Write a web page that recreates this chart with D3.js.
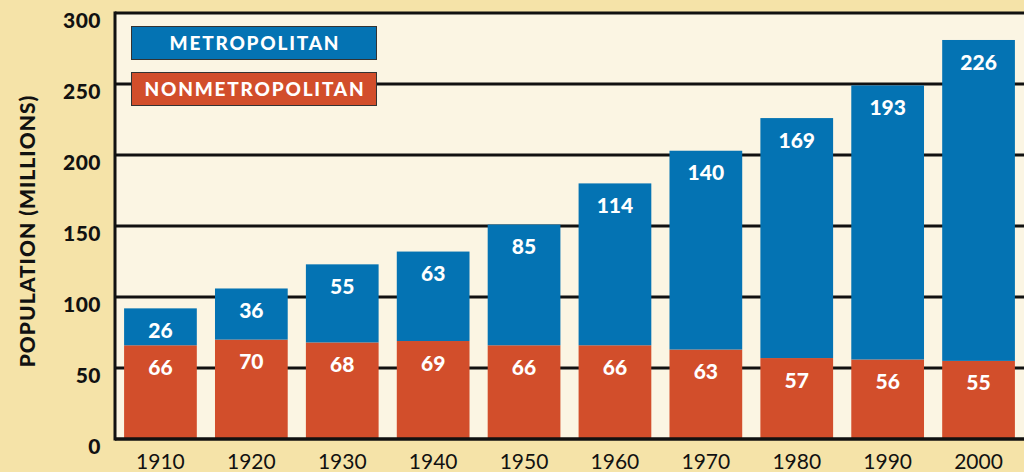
<!DOCTYPE html>
<html><head><meta charset="utf-8">
<script src="https://cdn.jsdelivr.net/npm/d3@7"></script>
<style>
html,body{margin:0;padding:0;background:#f5e3a8;}
svg{display:block;}
</style></head>
<body>
<svg id="chart" width="1024" height="472"></svg>
<script>
const years = ["1910","1920","1930","1940","1950","1960","1970","1980","1990","2000"];
const nonmetro = [66,70,68,69,66,66,63,57,56,55];
const metro = [26,36,55,63,85,114,140,169,193,226];
const yTicks = [0,50,100,150,200,250,300];
const seriesNames = ["METROPOLITAN","NONMETROPOLITAN"];

(function(){
const W=1024,H=472;
const svg=d3.select("#chart");
const pL=115, pR=1024, pT=13, pB=439;
const font="Lato, 'Open Sans', sans-serif";
const blue="#0473b3", red="#d24e2b";

svg.append("rect").attr("width",W).attr("height",H).attr("fill","#f5e3a8");
svg.append("rect").attr("x",pL).attr("y",pT).attr("width",pR-pL).attr("height",pB-pT).attr("fill","#fbf5e3");

const x=d3.scaleBand().domain(years).range([pL,pR]).paddingInner(0.2).paddingOuter(0.1);
const y=d3.scaleLinear().domain([0,300]).range([pB,pT]);

svg.append("g").selectAll("line").data(yTicks.filter(d=>d>0)).join("line")
  .attr("x1",pL).attr("x2",pR).attr("y1",d=>y(d)).attr("y2",d=>y(d))
  .attr("stroke","#111").attr("stroke-width",3);

svg.append("g").selectAll("text").data(yTicks).join("text")
  .attr("x",101).attr("y",d=>y(d)+7).attr("dy","0.36em")
  .attr("text-anchor","end").attr("font-family",font).attr("font-weight","900")
  .attr("font-size",21).attr("letter-spacing",0.5).attr("fill","#111").text(d=>d);

const g=svg.append("g");
years.forEach((yr,i)=>{
  const nm=nonmetro[i], m=metro[i];
  g.append("rect").attr("x",x(yr)).attr("width",x.bandwidth())
    .attr("y",y(nm)).attr("height",y(0)-y(nm)).attr("fill",red);
  g.append("rect").attr("x",x(yr)).attr("width",x.bandwidth())
    .attr("y",y(nm+m)).attr("height",y(nm)-y(nm+m)).attr("fill",blue);
  g.append("text").attr("x",x(yr)+x.bandwidth()/2).attr("y",y(nm)+22).attr("dy","0.36em")
    .attr("text-anchor","middle").attr("font-family",font).attr("font-weight","900")
    .attr("font-size",21).attr("fill","#fff").text(nm);
  g.append("text").attr("x",x(yr)+x.bandwidth()/2).attr("y",y(nm+m)+22).attr("dy","0.36em")
    .attr("text-anchor","middle").attr("font-family",font).attr("font-weight","900")
    .attr("font-size",21).attr("fill","#fff").text(m);
});

svg.append("line").attr("x1",pL).attr("x2",pL).attr("y1",pT-1.5).attr("y2",pB+1.5).attr("stroke","#111").attr("stroke-width",3);
svg.append("line").attr("x1",pL).attr("x2",pR).attr("y1",pB).attr("y2",pB).attr("stroke","#111").attr("stroke-width",3.5);

svg.append("g").selectAll("text").data(years).join("text")
  .attr("x",d=>x(d)+x.bandwidth()/2).attr("y",461).attr("dy","0.36em")
  .attr("text-anchor","middle").attr("font-family",font).attr("font-weight","400")
  .attr("font-size",21).attr("fill","#111").text(d=>d);

svg.append("text").attr("transform","translate(27,231) rotate(-90)").attr("dy","0.36em")
  .attr("text-anchor","middle").attr("font-family",font).attr("font-weight","900")
  .attr("font-size",21).attr("letter-spacing",1).attr("fill","#111").text("POPULATION (MILLIONS)");

const legColors=[blue,red];
seriesNames.forEach((n,i)=>{
  const ly=26+i*46;
  svg.append("rect").attr("x",131.5).attr("y",ly+0.5).attr("width",245).attr("height",33)
    .attr("fill",legColors[i]).attr("stroke","#333").attr("stroke-width",1);
  svg.append("text").attr("x",255).attr("y",ly+17).attr("dy","0.36em")
    .attr("text-anchor","middle").attr("font-family",font).attr("font-weight","900")
    .attr("font-size",19).attr("letter-spacing",1.8).attr("fill","#fff").text(n);
});
})();
</script>
</body></html>
